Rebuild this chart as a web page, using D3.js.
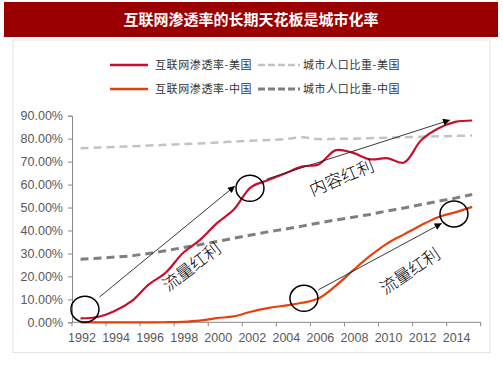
<!DOCTYPE html>
<html><head><meta charset="utf-8">
<script src="https://cdn.jsdelivr.net/npm/d3@7"></script>
<style>
html,body{margin:0;padding:0;background:#fff;}
svg{display:block;}
</style></head>
<body>
<svg id="c" width="503" height="378"></svg>
<script>
const years = d3.range(1992, 2016);
const xTickLabels = ["1992","1994","1996","1998","2000","2002","2004","2006","2008","2010","2012","2014"];
const yTicks = [0,0.1,0.2,0.3,0.4,0.5,0.6,0.7,0.8,0.9];
const usInternet = [1.7,2.3,4.9,9.2,16.4,21.6,30.1,35.8,43.1,49.1,58.8,61.9,64.8,67.8,68.9,75.0,73.8,71.0,71.5,69.6,79.3,84.4,87.3,87.9];
const cnInternet = [0,0,0,0,0,0.03,0.2,0.7,1.8,2.6,4.6,6.2,7.3,8.5,10.5,16.0,22.6,28.9,34.3,38.3,42.3,45.8,47.9,50.3];
const usUrban = [75.8,76.1,76.4,76.7,77.0,77.3,77.6,77.9,78.3,78.7,79.1,79.4,79.8,80.6,79.8,79.9,80.0,80.2,80.4,80.6,80.8,81.0,81.2,81.4];
const cnUrban = [27.5,27.9,28.4,29.0,30.0,31.2,32.5,33.8,35.2,36.6,38.0,39.4,40.6,41.9,43.3,44.6,45.8,47.0,48.5,49.8,51.3,52.7,54.1,55.7];
const seriesNames = ["互联网渗透率-美国","城市人口比重-美国","互联网渗透率-中国","城市人口比重-中国"];
const title = "互联网渗透率的长期天花板是城市化率";
// annotations in data space: [year, value%]
const ellipses = [[1992.26,5.7],[2001.95,58.4],[2005.12,10.45],[2013.93,47.2]];
const arrows = [[[1993.11,11.0],[2001.07,59.4]],[[2002.93,62.4],[2013.7,88.1]],[[2005.96,14.1],[2013.21,43.1]]];
const labels = [["流量红利",1998.53,24.2,-37],["内容红利",2007.34,63.0,-22.5],["流量红利",2011.35,22.3,-34]];

const svg = d3.select("#c");
// title bar
svg.append("rect").attr("x",4).attr("y",2).attr("width",494).attr("height",35).attr("fill","#9b0000");
svg.append("text").attr("x",251).attr("y",25).attr("text-anchor","middle").attr("fill","#fff")
  .attr("font-family","'Noto Sans CJK SC'").attr("font-weight","bold").attr("font-size",15).text(title);
// panel
svg.append("rect").attr("x",13).attr("y",40).attr("width",477).attr("height",312.5).attr("fill","#fff").attr("stroke","#e3e3e3").attr("stroke-width",1);

const x = d3.scaleBand().domain(years).range([72,480.7]).padding(0);
const bw = x.bandwidth();
const xc = y => x(y) + bw/2;
const xf = yr => 72 + (yr - 1992 + 0.5) * bw;
const y = d3.scaleLinear().domain([0,0.9]).range([322.3,115.7]);
const yv = v => y(v/100);

// y axis
const ya = svg.append("g").attr("transform","translate(72,0)")
  .call(d3.axisLeft(y).tickValues(yTicks).tickSize(4).tickFormat(d3.format(".2%")));
ya.select(".domain").attr("stroke","#888");
ya.selectAll(".tick line").attr("stroke","#888");
ya.selectAll("text").attr("font-family","'Liberation Sans',Arial").attr("font-size",12.5).attr("fill","#595959").attr("dx",-2);

// x axis
const xa = svg.append("g").attr("transform","translate(0,322.3)");
xa.append("line").attr("x1",72).attr("x2",480.7).attr("stroke","#888");
const tickYears = years.filter((d,i)=>i%2===0);
xa.selectAll("line.t").data(tickYears.concat([null])).enter().append("line").attr("class","t")
  .attr("x1",d=> d===null?480.7:x(d)).attr("x2",d=> d===null?480.7:x(d)).attr("y1",0).attr("y2",4).attr("stroke","#888");
xa.selectAll("text").data(xTickLabels).enter().append("text")
  .attr("x",d=>xc(+d)+1.5).attr("y",20).attr("text-anchor","middle")
  .attr("font-family","'Liberation Sans',Arial").attr("font-size",12.5).attr("fill","#595959").text(d=>d);

const line = d3.line().x((d,i)=>xc(years[i])).y(d=>yv(d)).curve(d3.curveCatmullRom.alpha(0.5));
svg.append("path").attr("d",line(usUrban)).attr("fill","none").attr("stroke","#c3c3c3").attr("stroke-width",2.5).attr("stroke-dasharray","8,5");
svg.append("path").attr("d",line(cnUrban)).attr("fill","none").attr("stroke","#7f7f7f").attr("stroke-width",3).attr("stroke-dasharray","8,5");
svg.append("path").attr("d",line(cnInternet)).attr("fill","none").attr("stroke","#e8400c").attr("stroke-width",2.2);
svg.append("path").attr("d",line(usInternet)).attr("fill","none").attr("stroke","#c8102e").attr("stroke-width",2.2);

// legend
const leg = svg.append("g");
const legItems = [
  {name:seriesNames[0],x:110,y:65,color:"#c8102e",dash:null,w:2.5},
  {name:seriesNames[1],x:258,y:65,color:"#c3c3c3",dash:"7,3",w:2.5},
  {name:seriesNames[2],x:110,y:89,color:"#e8400c",dash:null,w:2.5},
  {name:seriesNames[3],x:258,y:89,color:"#7f7f7f",dash:"7,3",w:3}
];
legItems.forEach((d,i)=>{
  const L = i%2===0 ? 38 : 42;
  leg.append("line").attr("x1",d.x).attr("x2",d.x+L).attr("y1",d.y).attr("y2",d.y)
    .attr("stroke",d.color).attr("stroke-width",d.w).attr("stroke-dasharray",d.dash);
  leg.append("text").attr("x",d.x+L+(i%2===0?7:3)).attr("y",d.y+4).attr("font-family","'Noto Sans CJK SC'")
    .attr("font-size",11).attr("letter-spacing",0.6).attr("fill","#333").text(d.name);
});

// annotations
svg.append("defs").append("marker").attr("id","ah").attr("viewBox","0 0 10 10").attr("refX",10).attr("refY",5)
  .attr("markerWidth",10).attr("markerHeight",7).attr("markerUnits","userSpaceOnUse").attr("orient","auto")
  .append("path").attr("d","M0,0L10,5L0,10Z").attr("fill","#000");
arrows.forEach(a=>{
  svg.append("line").attr("x1",xf(a[0][0])).attr("y1",yv(a[0][1])).attr("x2",xf(a[1][0])).attr("y2",yv(a[1][1]))
    .attr("stroke","#222").attr("stroke-width",0.9).attr("marker-end","url(#ah)");
});
ellipses.forEach(e=>{
  svg.append("ellipse").attr("cx",xf(e[0])).attr("cy",yv(e[1])).attr("rx",14).attr("ry",13)
    .attr("fill","none").attr("stroke","#000").attr("stroke-width",1.5);
});
labels.forEach(l=>{
  const cx = xf(l[1]), cy = yv(l[2]);
  svg.append("text").attr("transform",`translate(${cx},${cy}) rotate(${l[3]})`).attr("text-anchor","middle")
    .attr("dy","0.35em").attr("font-family","'Noto Sans CJK SC'").attr("font-weight",300).attr("font-size",17).attr("fill","#000").text(l[0]);
});
</script>
</body></html>
